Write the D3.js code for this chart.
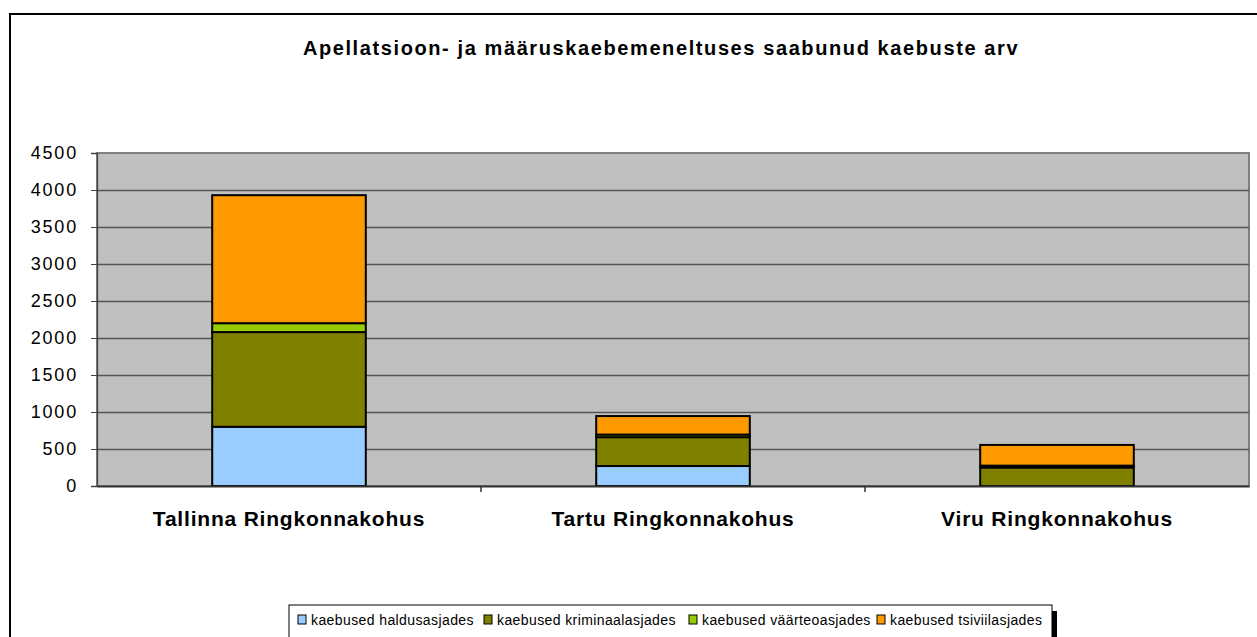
<!DOCTYPE html>
<html>
<head>
<meta charset="utf-8">
<script src="https://cdn.jsdelivr.net/npm/d3@7"></script>
<style>
  body { margin: 0; background: #fff; }
  svg { display: block; font-family: "Liberation Sans", Arial, sans-serif; }
</style>
</head>
<body>
<div id="chart"></div>
<script>
const categories = ["Tallinna Ringkonnakohus", "Tartu Ringkonnakohus", "Viru Ringkonnakohus"];
const seriesNames = ["kaebused haldusasjades", "kaebused kriminaalasjades", "kaebused väärteoasjades", "kaebused tsiviilasjades"];
const haldus = [800, 270, 0];
const kriminaal = [1280, 390, 250];
const vaarteo = [120, 35, 25];
const tsiviil = [1730, 250, 280];
const yTicks = [0, 500, 1000, 1500, 2000, 2500, 3000, 3500, 4000, 4500];
const colors = ["#99ccff", "#808000", "#99cc00", "#ff9900"];

const title = "Apellatsioon- ja määruskaebemeneltuses saabunud kaebuste arv";

const W = 1257, H = 637;
const plot = { left: 97, top: 153, right: 1249, bottom: 486 };

const svg = d3.select("#chart").append("svg")
  .attr("width", W).attr("height", H);

// outer frame
svg.append("rect")
  .attr("x", 10).attr("y", 14).attr("width", W + 20).attr("height", H + 20)
  .attr("fill", "#fff").attr("stroke", "#000").attr("stroke-width", 2);

svg.append("text")
  .attr("x", 661).attr("y", 55)
  .attr("text-anchor", "middle")
  .style("font-size", "20px").style("font-weight", "bold")
  .style("letter-spacing", "1.6px")
  .text(title);

const x = d3.scaleBand().domain(categories).range([plot.left, plot.right]).paddingInner(0).paddingOuter(0);
const y = d3.scaleLinear().domain([0, 4500]).range([plot.bottom, plot.top]);

// plot background
svg.append("rect")
  .attr("x", plot.left).attr("y", plot.top)
  .attr("width", plot.right - plot.left).attr("height", plot.bottom - plot.top)
  .attr("fill", "#c0c0c0").attr("stroke", "#808080").attr("stroke-width", 2);

// gridlines
svg.append("g")
  .attr("transform", `translate(${plot.left},0)`)
  .call(d3.axisLeft(y).tickValues(yTicks.slice(1, -1)).tickSize(-(plot.right - plot.left)).tickFormat(""))
  .call(g => g.select(".domain").remove())
  .call(g => g.selectAll("line").attr("stroke", "#555").attr("stroke-width", 1.3));

// y axis
svg.append("g")
  .attr("transform", `translate(${plot.left},0)`)
  .call(d3.axisLeft(y).tickValues(yTicks).tickSize(6).tickPadding(13).tickFormat(d3.format("d")))
  .call(g => g.select(".domain").attr("stroke", "#444").attr("stroke-width", 1.3))
  .call(g => g.selectAll("line").attr("stroke", "#444"))
  .call(g => g.selectAll("text")
    .attr("fill", "#000")
    .attr("font-family", "Liberation Sans, Arial, sans-serif")
    .attr("font-size", 18)
    .style("letter-spacing", "1.8px"));

// stacked data
const table = categories.map((c, i) => ({
  cat: c,
  [seriesNames[0]]: haldus[i],
  [seriesNames[1]]: kriminaal[i],
  [seriesNames[2]]: vaarteo[i],
  [seriesNames[3]]: tsiviil[i]
}));
const stacked = d3.stack().keys(seriesNames)(table);

const barW = x.bandwidth() * 0.4;
stacked.forEach((layer, si) => {
  svg.append("g").selectAll("rect")
    .data(layer)
    .join("rect")
    .attr("x", d => x(d.data.cat) + (x.bandwidth() - barW) / 2)
    .attr("y", d => y(d[1]))
    .attr("width", barW)
    .attr("height", d => Math.max(0, y(d[0]) - y(d[1])))
    .attr("fill", colors[si])
    .attr("stroke", "#000")
    .attr("stroke-width", 2)
    .style("display", d => d[1] - d[0] > 0 ? null : "none");
});

// x axis
svg.append("g")
  .attr("transform", `translate(0,${plot.bottom})`)
  .call(d3.axisBottom(x).tickSize(0).tickPadding(0).tickFormat(""))
  .call(g => g.select(".domain").attr("stroke", "#333").attr("stroke-width", 2));

// category separators
svg.append("g").selectAll("line")
  .data(categories.slice(1))
  .join("line")
  .attr("x1", d => x(d)).attr("x2", d => x(d))
  .attr("y1", plot.bottom).attr("y2", plot.bottom + 6)
  .attr("stroke", "#333").attr("stroke-width", 1.5);

svg.append("g").selectAll("text")
  .data(categories)
  .join("text")
  .attr("x", d => x(d) + x.bandwidth() / 2)
  .attr("y", 526)
  .attr("text-anchor", "middle")
  .style("font-size", "21px").style("font-weight", "bold")
  .style("letter-spacing", "0.8px")
  .text(d => d);

// legend
const lg = svg.append("g");
lg.append("rect").attr("x", 294).attr("y", 611).attr("width", 763).attr("height", 40).attr("fill", "#000");
lg.append("rect").attr("x", 289).attr("y", 605).attr("width", 763).attr("height", 40)
  .attr("fill", "#fff").attr("stroke", "#000").attr("stroke-width", 1);

const legX = [298, 484, 689, 877];
seriesNames.forEach((s, i) => {
  lg.append("rect").attr("x", legX[i]).attr("y", 615).attr("width", 8).attr("height", 9)
    .attr("fill", colors[i]).attr("stroke", "#000").attr("stroke-width", 1);
  lg.append("text").attr("x", legX[i] + 13).attr("y", 625)
    .style("font-size", "14px").style("letter-spacing", "0.4px")
    .text(s);
});
</script>
</body>
</html>
